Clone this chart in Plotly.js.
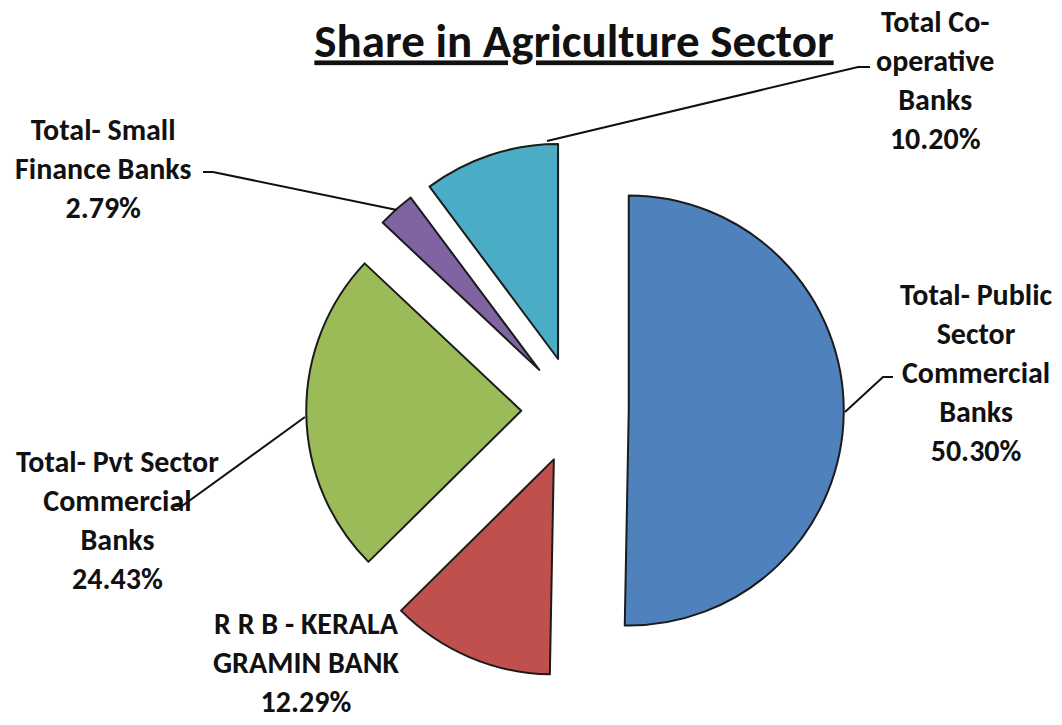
<!DOCTYPE html>
<html>
<head>
<meta charset="utf-8">
<script src="https://cdn.plot.ly/plotly-3.0.1.min.js"></script>
<style>html,body{margin:0;padding:0;background:#fff;}#chart{width:1062px;height:725px;}</style>
</head>
<body>
<div id="chart"></div>
<script>
// ---- data ----
const categories = [
  'Total- Public Sector Commercial Banks',
  'R R B - KERALA GRAMIN BANK',
  'Total- Pvt Sector Commercial Banks',
  'Total- Small Finance Banks',
  'Total Co-operative Banks'
];
const labelLines = [
  ['Total- Public', 'Sector', 'Commercial', 'Banks'],
  ['R R B - KERALA', 'GRAMIN BANK'],
  ['Total- Pvt Sector', 'Commercial', 'Banks'],
  ['Total- Small', 'Finance Banks'],
  ['Total Co-', 'operative', 'Banks']
];
const shares = [50.30, 12.29, 24.43, 2.79, 10.20];
const sliceColors = ['#4F81BD', '#C0504D', '#9BBB59', '#8064A2', '#4BACC6'];

// ---- layout helpers (pixel -> paper) ----
const W = 1062, H = 725;
const PX = x => x / W;
const PY = y => 1 - y / H;
const FONT = 'Carlito, Lato, "Liberation Sans", sans-serif';

// label placement (pixel centres of each label block)
const labelPos = [
  [976, 372], [306, 662], [117, 520], [103, 168], [935, 80]
];
// leader line paths (pixel points)
const leaders = [
  [[893, 377], [883, 377], [845, 412]],
  null,
  [[305, 417], [182, 506], [173, 506]],
  [[203, 172], [213, 172], [397, 210]],
  [[870, 67], [858, 67], [547, 141]]
];

const pieCx = 575, pieCy = 410, pieR = 215, pull = 0.25;
const box = pieR * 2 * (1 + pull);

const trace = {
  type: 'pie',
  labels: categories,
  values: shares,
  sort: false,
  direction: 'clockwise',
  rotation: 0,
  pull: shares.map(() => pull),
  marker: { colors: sliceColors, line: { color: '#1b1b1b', width: 2 } },
  textinfo: 'none',
  hoverinfo: 'label+percent',
  showlegend: false,
  domain: {
    x: [PX(pieCx - box / 2), PX(pieCx + box / 2)],
    y: [PY(pieCy + box / 2), PY(pieCy - box / 2)]
  }
};

const annotations = categories.map((c, i) => ({
  xref: 'paper', yref: 'paper',
  x: PX(labelPos[i][0]), y: PY(labelPos[i][1]),
  xanchor: 'center', yanchor: 'middle',
  showarrow: false, align: 'center',
  text: labelLines[i].concat([shares[i].toFixed(2) + '%']).map(s => '<b>' + s + '</b>').join('<br>'),
  font: { family: FONT, size: 30, color: '#111' }
}));

const shapes = leaders.filter(l => l).map(pts => ({
  type: 'path', xref: 'paper', yref: 'paper',
  path: pts.map((p, k) => (k ? 'L' : 'M') + PX(p[0]) + ',' + PY(p[1])).join(' '),
  line: { color: '#111', width: 2 }
}));

const layout = {
  width: W, height: H,
  margin: { l: 0, r: 0, t: 0, b: 0 },
  paper_bgcolor: '#ffffff',
  title: {
    text: '<b><u>Share in Agriculture Sector</u></b>',
    x: PX(574), y: PY(41), xref: 'paper', yref: 'paper',
    xanchor: 'center', yanchor: 'middle',
    font: { family: FONT, size: 47, color: '#111' }
  },
  annotations: annotations,
  shapes: shapes
};

Plotly.newPlot('chart', [trace], layout, { displayModeBar: false, staticPlot: true });
</script>
</body>
</html>
